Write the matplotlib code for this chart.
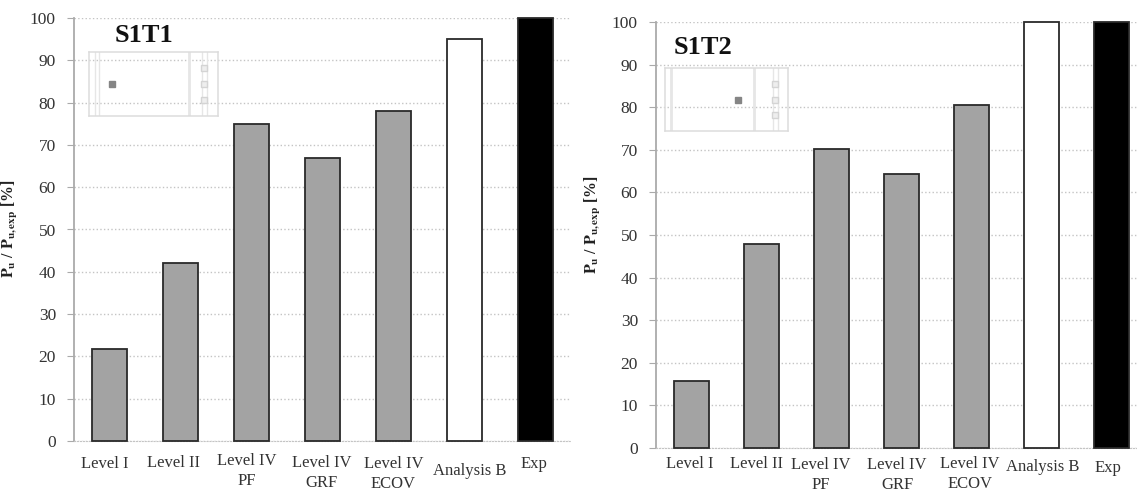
import matplotlib
matplotlib.use('Agg')
import matplotlib.pyplot as plt

plt.rcParams['font.family'] = ['Liberation Serif', 'DejaVu Serif']
plt.rcParams['mathtext.fontset'] = 'stix'

W, H = 1137, 491

labels = ['Level I', 'Level II', 'Level IV\nPF', 'Level IV\nGRF', 'Level IV\nECOV', 'Analysis B', 'Exp']
s1t1_values = [21.7, 42, 75, 67, 78, 95, 100]
s1t2_values = [15.7, 47.8, 70.2, 64.4, 80.6, 100, 100]
bar_colors = ['#a3a3a3'] * 5 + ['white', 'black']
yticks = list(range(0, 101, 10))


def panel(box, values, title, title_xy, label_off, ylab_xy, inset_box, inset_lines, dot_x):
    # box in pixels: left, right, top, bottom
    l, r, t, b = box
    ax = fig.add_axes([l / W, 1 - b / H, (r - l) / W, (b - t) / H])
    x = list(range(len(values)))
    ax.bar(x, values, width=0.5, color=bar_colors, edgecolor='#2a2a2a', linewidth=1.3, zorder=3, clip_on=False)
    ax.set_xlim(-0.5, len(values) - 0.5)
    ax.set_ylim(0, 100)
    ax.set_yticks(yticks)
    ax.tick_params(axis='y', labelsize=12.5, labelcolor='#333333', length=5, color='#aaaaaa', pad=8)
    ax.set_xticks(x)
    ax.set_xticklabels([])
    ax.tick_params(axis='x', length=0)
    ax.grid(axis='y', linestyle=':', color='#c4c4c4', linewidth=1.0, zorder=0)
    ax.set_axisbelow(True)
    for s in ['top', 'right']:
        ax.spines[s].set_visible(False)
    ax.spines['left'].set_color('#aaaaaa')
    ax.spines['left'].set_linewidth(1.3)
    ax.spines['bottom'].set_color('#c4c4c4')
    ax.spines['bottom'].set_linestyle(':')
    ax.set_ylabel(r'$\mathbf{P_u}$ / $\mathbf{P_{u,exp}}$ [%]', fontsize=11.4, fontweight='bold', color='#222222')
    ax.yaxis.set_label_coords((ylab_xy[0] - l) / (r - l), (b - ylab_xy[1]) / (b - t))

    for i, lab in enumerate(labels):
        dx, dy = label_off[i]
        fig.text((l + (r - l) * (i + 0.5) / len(labels) + dx) / W, 1 - (b + dy) / H, lab,
                 ha='center', va='top', fontsize=12, color='#333333', linespacing=1.3)

    fig.text(title_xy[0] / W, 1 - title_xy[1] / H, title, fontsize=19, fontweight='bold',
             ha='left', va='center', color='#111111')

    # small schematic of the specimen
    il, ir, it, ib = inset_box
    sch = fig.add_axes([il / W, 1 - ib / H, (ir - il) / W, (ib - it) / H], facecolor='none')
    sch.set_xlim(0, 1)
    sch.set_ylim(0, 1)
    sch.set_xticks([])
    sch.set_yticks([])
    for s in sch.spines.values():
        s.set_color('#dcdcdc')
        s.set_linewidth(1.1)
    for vx, lw in inset_lines:
        sch.axvline(vx, color='#e6e6e6', linewidth=lw)
    sch.plot([dot_x], [0.5], 's', color='#858585', markersize=4)
    sch.plot([0.895] * 3, [0.25, 0.5, 0.75], 's', mfc='#eeeeee', mec='#d4d4d4', markersize=4.5)


fig = plt.figure(figsize=(W / 100, H / 100), dpi=100)

panel((74, 571, 18, 441), s1t1_values, 'S1T1', (115, 36),
      [(-5, 15), (-7, 14), (-5, 12), (-1, 14), (0, 15), (5, 22), (-2, 15)],
      (20, 229),
      (89, 218, 52, 116), [(0.05, 1), (0.08, 1), (0.775, 2), (0.875, 1), (0.915, 1)], 0.18)
panel((656, 1146, 22, 448), s1t2_values, 'S1T2', (674, 47),
      [(-1, 8), (-5, 8), (-10, 9), (-4, 9), (-1, 8), (2, 11), (-3, 12)],
      (603, 225),
      (665, 788, 68, 131), [(0.05, 2), (0.72, 2), (0.88, 1), (0.92, 1)], 0.595)

fig.savefig('out.png', dpi=100)
